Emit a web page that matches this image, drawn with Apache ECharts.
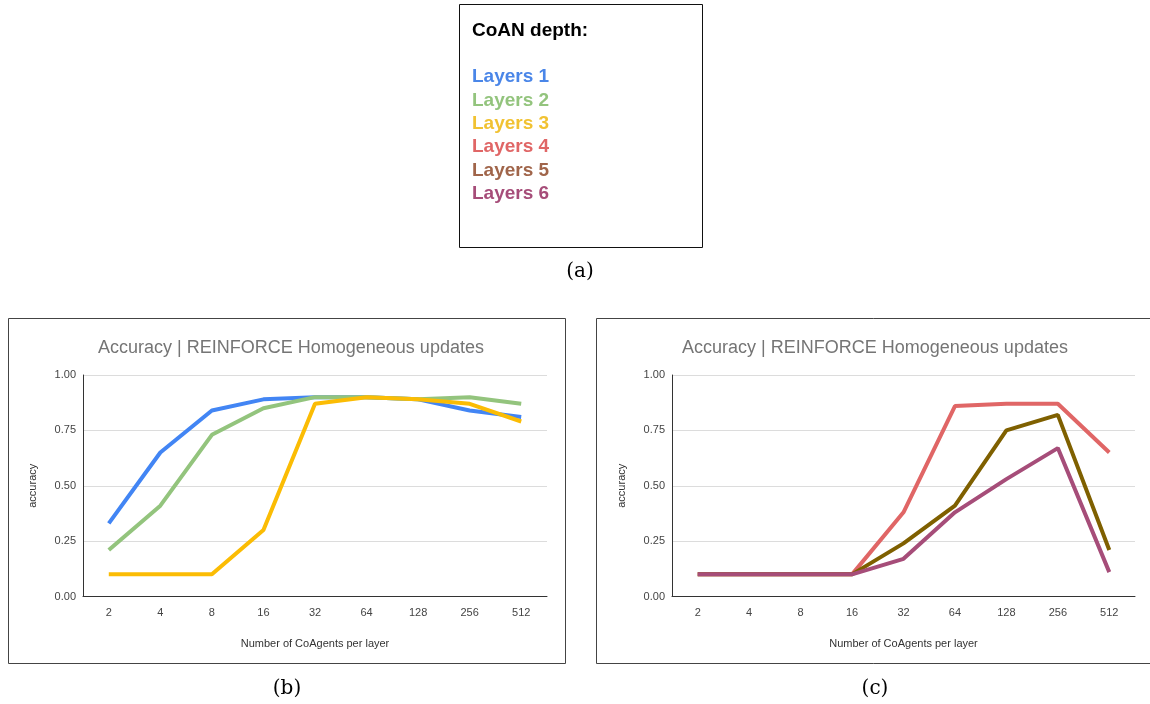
<!DOCTYPE html>
<html>
<head>
<meta charset="utf-8">
<script src="https://cdn.jsdelivr.net/npm/echarts@6/dist/echarts.min.js"></script>
<style>
html,body{margin:0;padding:0;background:#fff;}
#c{width:1150px;height:704px;}
</style>
</head>
<body>
<div id="c"></div>
<script>
const categories = ['2','4','8','16','32','64','128','256','512'];
const yTicks = [0, 0.25, 0.5, 0.75, 1.0];
const layers1 = [0.33, 0.65, 0.84, 0.89, 0.90, 0.90, 0.89, 0.84, 0.81];
const layers2 = [0.21, 0.41, 0.73, 0.85, 0.90, 0.90, 0.89, 0.90, 0.87];
const layers3 = [0.10, 0.10, 0.10, 0.30, 0.87, 0.90, 0.89, 0.87, 0.79];
const layers4 = [0.10, 0.10, 0.10, 0.10, 0.38, 0.86, 0.87, 0.87, 0.65];
const layers5 = [0.10, 0.10, 0.10, 0.10, 0.24, 0.41, 0.75, 0.82, 0.21];
const layers6 = [0.10, 0.10, 0.10, 0.10, 0.17, 0.38, 0.53, 0.67, 0.11];
const legendNames = ['Layers 1','Layers 2','Layers 3','Layers 4','Layers 5','Layers 6'];
const legendColors = ['#4a86e8','#93c47d','#f1c232','#e06666','#a0654a','#a64d79'];
const lineColors = ['#4285f4','#93c47d','#fbbc04','#e06666','#7f6000','#a64d79'];
const chartTitle = 'Accuracy | REINFORCE Homogeneous updates';
const xTitle = 'Number of CoAgents per layer';
const yTitle = 'accuracy';

const chart = echarts.init(document.getElementById('c'), null, {renderer:'canvas'});
const font = 'Liberation Sans, Arial, sans-serif';

function xAxis(gi){
  return {type:'category', gridIndex:gi, data:categories, boundaryGap:true,
    axisTick:{show:false}, axisLine:{show:true, lineStyle:{color:'#333', width:1}},
    axisLabel:{color:'#444', fontSize:11, fontFamily:font, margin:11},
    name:xTitle, nameLocation:'middle', nameGap:42,
    nameTextStyle:{color:'#333', fontSize:11, fontFamily:font}};
}
function yAxis(gi){
  return {type:'value', gridIndex:gi, min:0, max:1, interval:0.25,
    axisLine:{show:true, lineStyle:{color:'#333', width:1}}, axisTick:{show:false},
    splitLine:{lineStyle:{color:'#dcdcdc', width:1}},
    axisLabel:{color:'#444', fontSize:11, fontFamily:font, margin:7, formatter:v=>v.toFixed(2)},
    name:yTitle, nameLocation:'middle', nameGap:45, nameRotate:90,
    nameTextStyle:{color:'#333', fontSize:11, fontFamily:font}};
}
function line(name, data, idx, gi){
  return {type:'line', name:name, data:data, xAxisIndex:gi, yAxisIndex:gi,
    showSymbol:false, symbol:'none', lineStyle:{width:4, color:lineColors[idx]},
    itemStyle:{color:lineColors[idx]}, emphasis:{disabled:true}, z:2+idx};
}

const option = {
  animation:false,
  backgroundColor:'#fff',
  title:[
    {text:chartTitle, left:286, top:334, textAlign:'center',
      textStyle:{color:'#757575', fontSize:18, fontWeight:'normal', fontFamily:font}},
    {text:chartTitle, left:870, top:334, textAlign:'center',
      textStyle:{color:'#757575', fontSize:18, fontWeight:'normal', fontFamily:font}}
  ],
  legend:{
    orient:'vertical', left:467, top:67.5, padding:0, itemWidth:0, itemHeight:0, itemGap:4.4, icon:'none',
    selectedMode:false,
    data: legendNames.map((n,i)=>({name:n, icon:'none',
      textStyle:{color:legendColors[i], fontSize:19, fontWeight:'bold', fontFamily:font}})),
    textStyle:{fontSize:19, fontWeight:'bold', fontFamily:font, padding:0}
  },
  grid:[
    {left:83, top:375, width:464, height:221.5},
    {left:672, top:375, width:463, height:221.5}
  ],
  xAxis:[xAxis(0), xAxis(1)],
  yAxis:[yAxis(0), yAxis(1)],
  series:[
    line('Layers 1', layers1, 0, 0),
    line('Layers 2', layers2, 1, 0),
    line('Layers 3', layers3, 2, 0),
    line('Layers 4', layers4, 3, 1),
    line('Layers 5', layers5, 4, 1),
    line('Layers 6', layers6, 5, 1)
  ],
  graphic:[
    {type:'rect', shape:{x:459.5, y:4.5, width:243, height:243}, style:{fill:null, stroke:'#111', lineWidth:1}, silent:true},
    {type:'text', left:472, top:21.5, style:{text:'CoAN depth:', fill:'#000', font:'bold 19px '+font}},
    {type:'text', x:580, y:272, style:{text:'(a)', fill:'#000', font:'20px "DejaVu Serif", serif', textAlign:'center', textVerticalAlign:'middle'}},
    {type:'rect', shape:{x:8.5, y:318.5, width:557, height:345}, style:{fill:null, stroke:'#444', lineWidth:1}, silent:true},
    {type:'rect', shape:{x:596.5, y:318.5, width:560, height:345}, style:{fill:null, stroke:'#444', lineWidth:1}, silent:true},
    {type:'text', x:287, y:689, style:{text:'(b)', fill:'#000', font:'20px "DejaVu Serif", serif', textAlign:'center', textVerticalAlign:'middle'}},
    {type:'text', x:875, y:689, style:{text:'(c)', fill:'#000', font:'20px "DejaVu Serif", serif', textAlign:'center', textVerticalAlign:'middle'}}
  ]
};
chart.setOption(option);
</script>
</body>
</html>
